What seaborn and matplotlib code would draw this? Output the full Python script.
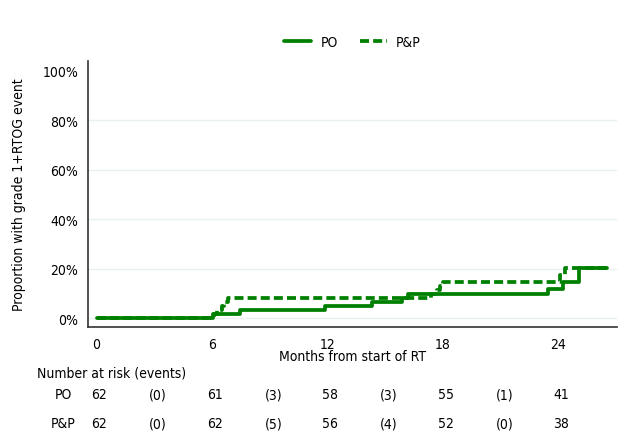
import pandas as pd
import matplotlib
matplotlib.use("Agg")
import matplotlib.pyplot as plt
import seaborn as sns
from matplotlib.lines import Line2D

# Kaplan-Meier style cumulative incidence (% with grade 1+ RTOG event)
po_months = [0, 6.05, 7.46, 11.9, 14.3, 15.9, 16.2, 23.47, 24.25, 25.1, 26.55]
po_pct = [0, 1.7, 3.3, 4.9, 6.5, 8.3, 9.8, 11.9, 14.6, 20.4, 20.4]

pp_months = [0, 6.1, 6.25, 6.5, 6.65, 6.85, 17.4, 17.7, 17.85, 18.0, 24.1, 24.35, 26.55]
pp_pct = [0, 1.6, 3.2, 4.8, 6.5, 8.1, 9.7, 11.5, 13.0, 14.6, 17.3, 20.4, 20.4]

arms = ["PO", "P&P"]
x_ticks = [0, 6, 12, 18, 24]
y_ticks = [0, 20, 40, 60, 80, 100]

# number at risk at 0/6/12/18/24 months, events in between
risk_po = ["62", "61", "58", "55", "41"]
events_po = ["(0)", "(3)", "(3)", "(1)"]
risk_pp = ["62", "62", "56", "52", "38"]
events_pp = ["(0)", "(5)", "(4)", "(0)"]

df = pd.concat([
    pd.DataFrame({"month": po_months, "pct": po_pct, "arm": "PO"}),
    pd.DataFrame({"month": pp_months, "pct": pp_pct, "arm": "P&P"}),
])

sns.set_style("white")
plt.rcParams["font.family"] = ["DejaVu Sans"]
plt.rcParams["font.stretch"] = "condensed"
plt.rcParams["font.size"] = 10
plt.rcParams["text.color"] = "black"
plt.rcParams["axes.labelcolor"] = "black"
plt.rcParams["xtick.color"] = "black"
plt.rcParams["ytick.color"] = "black"

green = "#008000"
dash = (2.4, 1.1)

fig = plt.figure(figsize=(6.32, 4.39), dpi=100)
ax = fig.add_axes([0.139, 0.253, 0.837, 0.606])

sns.lineplot(data=df, x="month", y="pct", style="arm", style_order=arms,
             dashes={"PO": "", "P&P": dash}, color=green, lw=2.7,
             drawstyle="steps-post", estimator=None, legend=False, ax=ax)

ax.set_xlim(-0.45, 27.05)
ax.set_ylim(-3.6, 104)
ax.set_xticks(x_ticks)
ax.set_yticks(y_ticks)
ax.set_yticklabels([f"{v}%" for v in y_ticks])
ax.yaxis.grid(True, color="#e8f0f2", lw=1)
ax.yaxis.get_gridlines()[-1].set_visible(False)
ax.set_axisbelow(True)
for s in ["top", "right"]:
    ax.spines[s].set_visible(False)
for s in ["left", "bottom"]:
    ax.spines[s].set_color("#333333")
    ax.spines[s].set_linewidth(1.2)
ax.tick_params(axis="both", direction="out", length=4, width=1, color="#333333",
               labelsize=10, pad=3)
ax.set_xlabel("Months from start of RT", fontsize=10, labelpad=-1)
ax.set_ylabel("Proportion with grade 1+RTOG event", fontsize=10, labelpad=12)

handles = [Line2D([], [], color=green, lw=2.7),
           Line2D([], [], color=green, lw=2.7, dashes=dash)]
fig.legend(handles, arms, loc="center", bbox_to_anchor=(0.558, 0.902), ncol=2,
           frameon=False, handlelength=1.95, handletextpad=0.65,
           columnspacing=1.6, fontsize=10)

# risk table
fig.text(0.059, 0.150, "Number at risk (events)", fontsize=10, va="center")
trans = matplotlib.transforms.blended_transform_factory(ax.transData, fig.transFigure)
for label, yy, risk, ev in [("PO", 0.100, risk_po, events_po),
                            ("P&P", 0.034, risk_pp, events_pp)]:
    fig.text(0.1006, yy, label, fontsize=10, ha="center", va="center")
    for i, r in enumerate(risk):
        ax.text(x_ticks[i] + 0.15, yy, r, transform=trans, ha="center", va="center", fontsize=10)
    for i, e in enumerate(ev):
        ax.text(x_ticks[i] + 3.2, yy, e, transform=trans, ha="center", va="center", fontsize=10)

fig.savefig("out.png", dpi=100)
